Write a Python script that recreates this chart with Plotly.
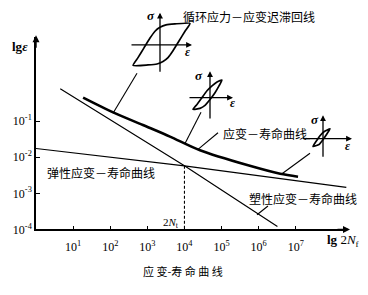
import plotly.graph_objects as go

W, H = 368, 295

# ---------------- data ----------------
# total strain-life curve (thick)
total_life = [18.6, 120, 760, 4070, 26300, 490000, 3.8e6, 1.15e7]
total_strain = [0.447, 0.174, 0.0776, 0.0372, 0.0155, 0.00603, 0.00347, 0.00288]
# elastic strain-life line
elastic_life = [1, 1e4, 2.3e8]
elastic_strain = [0.0174, 0.00575, 0.00145]
# plastic strain-life line
plastic_life = [4.5, 1e4, 3.2e6]
plastic_strain = [0.78, 0.00575, 0.00012]
# transition life 2Nt
transition_life = [1e4, 1e4]
transition_strain = [0.00575, 1e-4]

x_tickvals = [1e1, 1e2, 1e3, 1e4, 1e5, 1e6, 1e7]
x_ticktext = ["10<sup>1</sup>", "10<sup>2</sup>", "10<sup>3</sup>", "10<sup>4</sup>",
              "10<sup>5</sup>", "10<sup>6</sup>", "10<sup>7</sup>"]
y_tickvals = [1e-4, 1e-3, 1e-2, 1e-1]
y_ticktext = ["10<sup>-4</sup>", "10<sup>-3</sup>", "10<sup>-2</sup>", "10<sup>-1</sup>"]

# hysteresis loops (strain, stress) in schematic units
loop1_eps = [-27, -22, -16, -10, -5, 0, 6, 15, 30, 25, 19, 13, 8, 3, -3, -12, -27]
loop1_sig = [-21, -13, -3, 7, 14, 18, 20.5, 21.5, 22, 14, 4, -6, -13, -17, -19.5, -20.5, -21]
loop2_eps = [-17, -13, -8, -3, 2, 7, 12, 9, 5, 0, -5, -10, -17]
loop2_sig = [-12, -7, 0, 7, 12, 16, 18, 12, 5, -2, -8, -11, -12]
loop3_eps = [-10, -7, -3, 1, 7, 4, 0, -4, -10]
loop3_sig = [-8, -3, 3, 7, 10, 5, -1, -6, -8]

SERIF = "Liberation Serif, DejaVu Serif, serif"
CJK = "Noto Sans CJK SC"


def px(x, y):
    return x / W, 1 - y / H


fig = go.Figure()
thin = dict(color="black", width=1.2)
fig.add_trace(go.Scatter(x=elastic_life, y=elastic_strain, mode="lines", line=thin))
fig.add_trace(go.Scatter(x=plastic_life, y=plastic_strain, mode="lines", line=thin))
fig.add_trace(go.Scatter(x=total_life, y=total_strain, mode="lines",
                         line=dict(color="black", width=2.6, shape="spline", smoothing=0.8)))
fig.add_trace(go.Scatter(x=transition_life, y=transition_strain, mode="lines",
                         line=dict(color="black", width=1.1, dash="3px,2px")))

# insets: (xaxis, yaxis, eps, sig, origin px, x px span, y px span)
insets = [
    ("x2", "y2", loop1_eps, loop1_sig, (160, 46), (128, 196), (8, 80)),
    ("x3", "y3", loop2_eps, loop2_sig, (210, 100), (184, 240), (68, 128)),
    ("x4", "y4", loop3_eps, loop3_sig, (323, 142), (298, 360), (112, 168)),
]
for xa, ya, e, s, (ox, oy), (xl, xr), (yt, yb) in insets:
    fig.add_trace(go.Scatter(x=e, y=s, mode="lines", xaxis=xa, yaxis=ya,
                             line=dict(color="black", width=1.7, shape="spline", smoothing=0.5)))

fig.update_layout(
    width=W, height=H, margin=dict(l=0, r=0, t=0, b=0),
    paper_bgcolor="white", plot_bgcolor="white", showlegend=False,
    xaxis=dict(type="log", domain=[36 / W, 347 / W], range=[0, 8.38],
               tickvals=x_tickvals, ticktext=x_ticktext, ticks="inside", ticklen=4,
               tickwidth=1.3, tickcolor="black", showline=True, linecolor="black",
               linewidth=1.5, showgrid=False, zeroline=False, ticklabelstandoff=5,
               tickfont=dict(family=SERIF, size=12, color="black"), anchor="y"),
    yaxis=dict(type="log", domain=[60 / H, 257 / H], range=[-4, 1.324],
               tickvals=y_tickvals, ticktext=y_ticktext, ticks="inside", ticklen=4,
               tickwidth=1.3, tickcolor="black", showline=True, linecolor="black",
               linewidth=1.5, showgrid=False, zeroline=False,
               tickfont=dict(family=SERIF, size=12, color="black"), anchor="x"),
)

annotations = []
shapes = []
for i, (xa, ya, e, s, (ox, oy), (xl, xr), (yt, yb)) in enumerate(insets):
    n = xa[1:]
    fig.layout["xaxis" + n] = dict(domain=[xl / W, xr / W], range=[xl - ox, xr - ox],
                                   visible=False, anchor=ya, fixedrange=True)
    fig.layout["yaxis" + n] = dict(domain=[1 - yb / H, 1 - yt / H], range=[oy - yb, oy - yt],
                                   visible=False, anchor=xa, fixedrange=True)

# inset crosshair arrows (tip, tail) in local px units
cross = [
    ("x2", "y2", (0, 33), (0, -29), (32, 0), (-30, 0)),
    ("x3", "y3", (0, 27), (0, -23), (23, 0), (-22, 0)),
    ("x4", "y4", (0, 24), (0, -20), (29, 0), (-18, 0)),
]
for xa, ya, vt, vb, hr, hl in cross:
    for tip, tail in ((vt, vb), (hr, hl)):
        annotations.append(dict(x=tip[0], y=tip[1], ax=tail[0], ay=tail[1], xref=xa, yref=ya,
                                axref=xa, ayref=ya, text="", showarrow=True, arrowhead=2,
                                arrowsize=0.9, arrowwidth=1.3, arrowcolor="black"))

# main axis arrows
for (x, y, ax, ay) in [(36, 36, 0, 14), (350, 235, -14, 0)]:
    X, Y = px(x, y)
    annotations.append(dict(x=X, y=Y, xref="paper", yref="paper", ax=ax, ay=ay, text="",
                            showarrow=True, arrowhead=2, arrowsize=1, arrowwidth=1.4,
                            arrowcolor="black"))


def text(x, y, t, size=12, family=CJK, xanchor="center"):
    X, Y = px(x, y)
    annotations.append(dict(x=X, y=Y, xref="paper", yref="paper", text=t, showarrow=False,
                            xanchor=xanchor, yanchor="middle",
                            font=dict(family=family, size=size, color="black")))


text(181, 17, "循环应力－应变迟滞回线", 12, xanchor="left")
text(221, 137, "应变－寿命曲线", 12, xanchor="left")
text(45, 177, "弹性应变－寿命曲线", 12, xanchor="left")
text(247, 203, "塑性应变－寿命曲线", 12, xanchor="left")
text(183, 278, "应 变-寿 命 曲 线", 11)
text(20, 48, "<b>lg<i>ε</i></b>", 13, SERIF)
text(343, 246, "<b>lg</b> 2<i>N</i><sub>f</sub>", 13, SERIF)
text(171, 228, "2<i>N</i><sub>t</sub>", 11, SERIF)
for (x, y) in [(151, 16), (199, 77), (315, 122)]:
    text(x, y, "<b><i>σ</i></b>", 13, SERIF)
for (x, y) in [(187, 53), (232, 106), (347, 150)]:
    text(x, y, "<b><i>ε</i></b>", 12, SERIF)

# leader lines
leaders = [((137, 75), (113, 116)), ((201, 115), (185, 147)), ((218, 136), (198, 153)),
           ((310, 157), (282, 178)), ((257, 220), (268, 211)), ((303, 142), (310, 142))]
for (a, b) in leaders:
    x0, y0 = px(*a)
    x1, y1 = px(*b)
    shapes.append(dict(type="line", xref="paper", yref="paper", x0=x0, y0=y0, x1=x1, y1=y1,
                       line=dict(color="black", width=1.1)))

fig.update_layout(annotations=annotations, shapes=shapes)
fig.write_html("out.html")
